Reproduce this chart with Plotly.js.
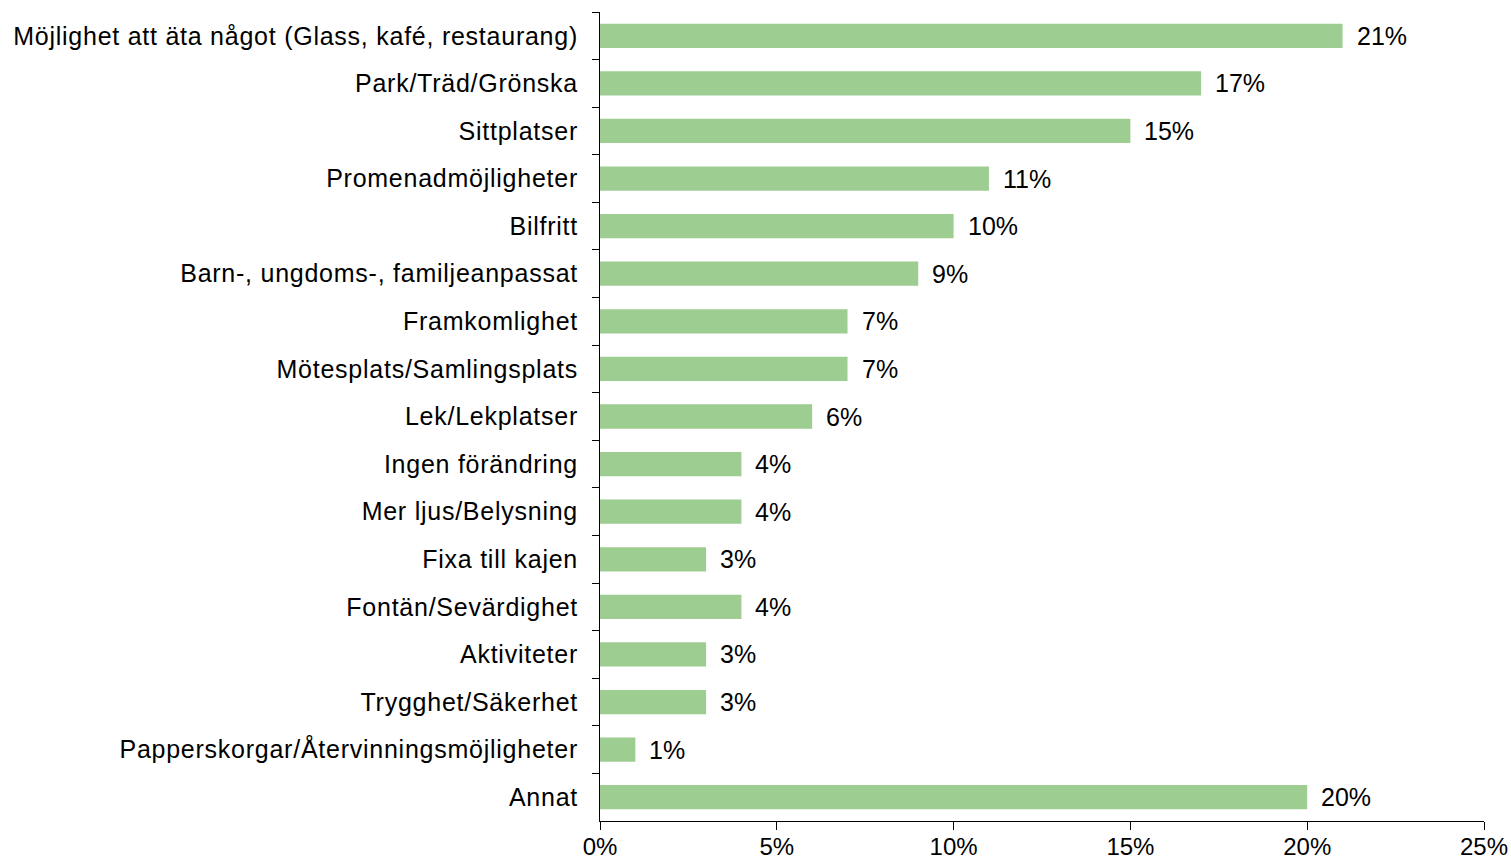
<!DOCTYPE html>
<html>
<head>
<meta charset="utf-8">
<script src="https://cdn.plot.ly/plotly-3.0.1.min.js"></script>
<style>
html,body{margin:0;padding:0;background:#fff;}
#chart{width:1511px;height:863px;}
#chart .ytick text{letter-spacing:0.75px;}
</style>
</head>
<body>
<div id="chart"></div>
<script>
const categories = [
  "Möjlighet att äta något (Glass, kafé, restaurang)",
  "Park/Träd/Grönska",
  "Sittplatser",
  "Promenadmöjligheter",
  "Bilfritt",
  "Barn-, ungdoms-, familjeanpassat",
  "Framkomlighet",
  "Mötesplats/Samlingsplats",
  "Lek/Lekplatser",
  "Ingen förändring",
  "Mer ljus/Belysning",
  "Fixa till kajen",
  "Fontän/Sevärdighet",
  "Aktiviteter",
  "Trygghet/Säkerhet",
  "Papperskorgar/Återvinningsmöjligheter",
  "Annat"
];
const values = [21, 17, 15, 11, 10, 9, 7, 7, 6, 4, 4, 3, 4, 3, 3, 1, 20];
const xTickVals = [0, 5, 10, 15, 20, 25];
const xTickText = ["0%", "5%", "10%", "15%", "20%", "25%"];

const font = {family: "Liberation Sans, Arial, sans-serif", size: 25, color: "#000"};
const xFont = {family: "Liberation Sans, Arial, sans-serif", size: 24, color: "#000"};

const trace = {
  type: "bar",
  orientation: "h",
  x: values,
  y: categories,
  marker: {color: "#9dcd91", line: {width: 0}},
  hoverinfo: "none"
};

const annotations = categories.map((c, i) => ({
  x: values[i], y: c, xref: "x", yref: "y",
  text: values[i] + "%", showarrow: false,
  xanchor: "left", yanchor: "middle", xshift: 12,
  font: font
}));

const layout = {
  width: 1511, height: 863,
  margin: {l: 600, r: 27, t: 12, b: 42},
  paper_bgcolor: "#fff", plot_bgcolor: "#fff",
  showlegend: false,
  bargap: 0.49,
  font: font,
  xaxis: {
    range: [0, 25], tickvals: xTickVals, ticktext: xTickText,
    showgrid: false, zeroline: false, showline: true, linecolor: "#000", linewidth: 1,
    ticks: "outside", ticklen: 8, tickcolor: "#000", tickfont: xFont, fixedrange: true,
    ticklabelstandoff: -4
  },
  yaxis: {
    autorange: "reversed", type: "category",
    showgrid: false, zeroline: false, showline: true, linecolor: "#000", linewidth: 1,
    ticks: "outside", ticklen: 7, tickcolor: "#000", tickson: "boundaries",
    tickfont: font, ticklabelstandoff: 16, fixedrange: true
  },
  annotations: annotations
};

Plotly.newPlot("chart", [trace], layout, {displayModeBar: false, staticPlot: true});
</script>
</body>
</html>
